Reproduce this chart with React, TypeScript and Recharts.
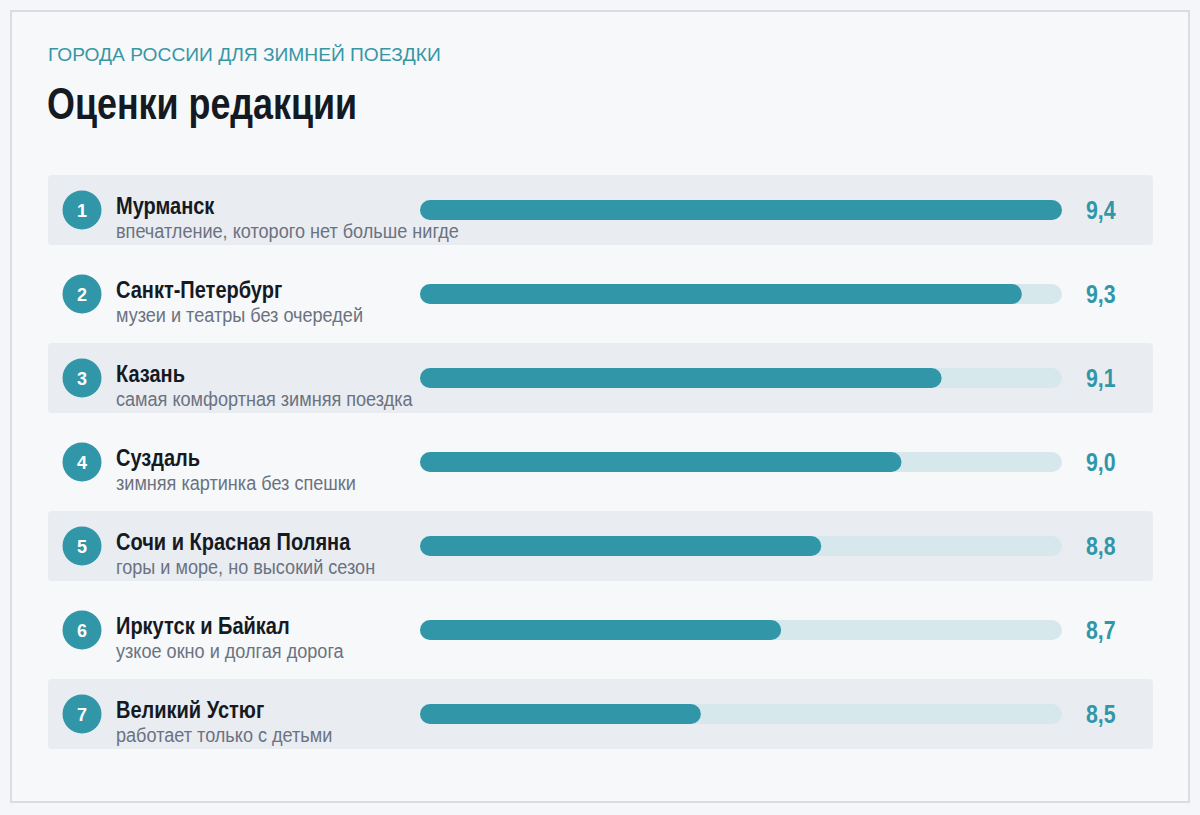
import { BarChart, Bar, XAxis, YAxis, LabelList } from 'recharts';

const cities = [
  'Мурманск',
  'Санкт-Петербург',
  'Казань',
  'Суздаль',
  'Сочи и Красная Поляна',
  'Иркутск и Байкал',
  'Великий Устюг',
];
const notes = [
  'впечатление, которого нет больше нигде',
  'музеи и театры без очередей',
  'самая комфортная зимняя поездка',
  'зимняя картинка без спешки',
  'горы и море, но высокий сезон',
  'узкое окно и долгая дорога',
  'работает только с детьми',
];
const scores = [9.4, 9.3, 9.1, 9.0, 8.8, 8.7, 8.5];
const scoreDomain = [7.8, 9.4];

const data = cities.map((city, i) => ({ city, note: notes[i], score: scores[i] }));

const TEAL = '#3196a8';
const SANS = '"Liberation Sans", Arial, sans-serif';

const W = 1200;
const H = 815;
const margin = { top: 168, right: 138, bottom: 59, left: 48 };
const LEFT = margin.left;
const STRIPE_W = 1105;

// no narrow face installed, so the condensed look is faked with a horizontal squeeze
const Squeezed = ({ x, y, sx, children, ...rest }: any) => (
  <text transform={`translate(${x},${y}) scale(${sx},1)`} fontFamily={SANS} {...rest}>
    {children}
  </text>
);

const CityTick = ({ y, payload }: any) => {
  const i = payload.index;
  return (
    <g>
      <circle cx={LEFT + 34} cy={y} r={19.5} fill={TEAL} />
      <text x={LEFT + 34} y={y + 6.5} textAnchor="middle" fill="#fff" fontFamily={SANS} fontWeight={700} fontSize={18}>
        {i + 1}
      </text>
      <Squeezed x={LEFT + 68} y={y + 4} sx={0.87} fill="#151a22" fontWeight={700} fontSize={23}>
        {payload.value}
      </Squeezed>
      <Squeezed x={LEFT + 68} y={y + 28} sx={0.905} fill="#6b7280" fontSize={20}>
        {notes[i]}
      </Squeezed>
    </g>
  );
};

const TrackBg = (props: any) => {
  const { x, y, width, height, index } = props;
  const cy = y + height / 2;
  return (
    <g>
      {index % 2 === 0 && (
        <rect x={LEFT} y={cy - 35} width={STRIPE_W} height={70} rx={4} fill="#e9ecf1" />
      )}
      <rect x={x} y={y} width={width} height={height} rx={height / 2} fill="#d6e8eb" />
    </g>
  );
};

const ScoreLabel = (props: any) => {
  const { y, height, value } = props;
  return (
    <Squeezed x={W - margin.right + 24} y={y + height / 2 + 9} sx={0.82} fill={TEAL} fontWeight={700} fontSize={26}>
      {Number(value).toFixed(1).replace('.', ',')}
    </Squeezed>
  );
};

export default function App() {
  return (
    <div style={{ position: 'absolute', left: 0, top: 0, width: W, height: H, background: '#f4f6f9' }}>
      <div
        style={{
          position: 'absolute', left: 10, top: 10, width: 1180, height: 793, boxSizing: 'border-box',
          border: '2px solid #d9dde3', background: '#f6f8fa',
        }}
      />
      <div style={{ position: 'absolute', left: 48, top: 43, fontFamily: SANS, fontSize: 19.2, color: '#3796a6', lineHeight: '24px', whiteSpace: 'nowrap' }}>
        ГОРОДА РОССИИ ДЛЯ ЗИМНЕЙ ПОЕЗДКИ
      </div>
      <div
        style={{
          position: 'absolute', left: 47, top: 78, fontFamily: SANS, fontWeight: 700, fontSize: 44, color: '#151a22',
          lineHeight: '52px', whiteSpace: 'nowrap', transform: 'scaleX(0.815)', transformOrigin: 'left top',
        }}
      >
        Оценки редакции
      </div>
      <div style={{ position: 'absolute', left: 0, top: 0 }}>
        <BarChart width={W} height={H} data={data} layout="vertical" margin={margin}>
          <XAxis type="number" domain={scoreDomain} hide allowDataOverflow />
          <YAxis type="category" dataKey="city" width={372} axisLine={false} tickLine={false} tick={<CityTick />} interval={0} />
          <Bar dataKey="score" barSize={20} radius={10} fill={TEAL} background={<TrackBg />} isAnimationActive={false}>
            <LabelList dataKey="score" content={<ScoreLabel />} />
          </Bar>
        </BarChart>
      </div>
    </div>
  );
}
